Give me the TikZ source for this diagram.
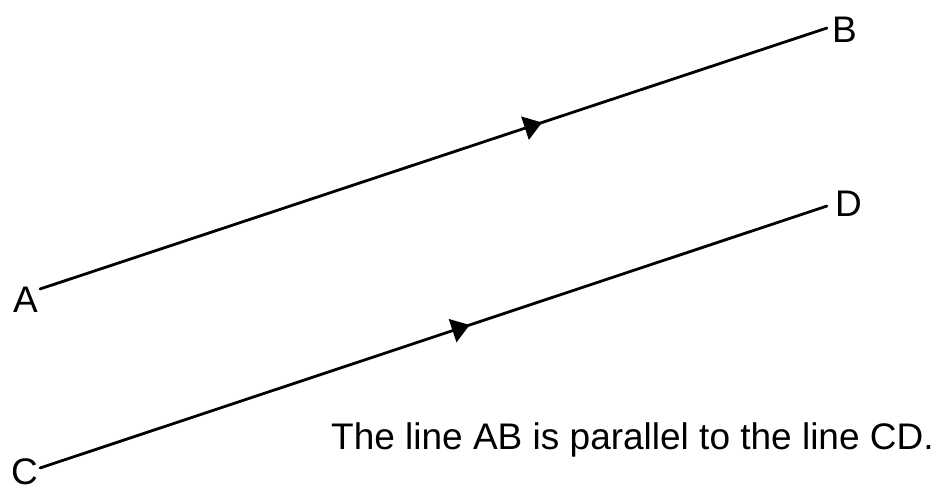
\documentclass[tikz,border=0pt]{standalone}
\usepackage{fontspec}
\setmainfont{Liberation Sans}
\usetikzlibrary{arrows.meta,decorations.markings}
\tikzset{
  seg/.style={line width=2.8pt, line cap=round},
  lbl/.style={anchor=base west, inner sep=0pt, font=\fontsize{37}{40}\selectfont},
  midarrow/.style={postaction={decorate}, decoration={markings,
    mark=at position #1 with {\arrow{Triangle[length=18pt,width=24pt]}}}}
}
\begin{document}
\begin{tikzpicture}[x=1pt,y=-1pt]
\useasboundingbox (0,0) rectangle (939,490);
\coordinate (a) at (40,289);
\coordinate (b) at (827,28);
\coordinate (c) at (40,468);
\coordinate (d) at (827,206);
\draw[seg, midarrow=0.638] (a) -- (b);
\draw[seg, midarrow=0.546] (c) -- (d);
\node[lbl] (la) at (13,312) {A};
\node[lbl] (lb) at (832,42) {B};
\node[lbl] (lc) at (11,484) {C};
\node[lbl] (ld) at (835,216) {D};
\node[lbl] (txt) at (331,449) {The line AB is parallel to the line CD.};
\end{tikzpicture}
\end{document}
